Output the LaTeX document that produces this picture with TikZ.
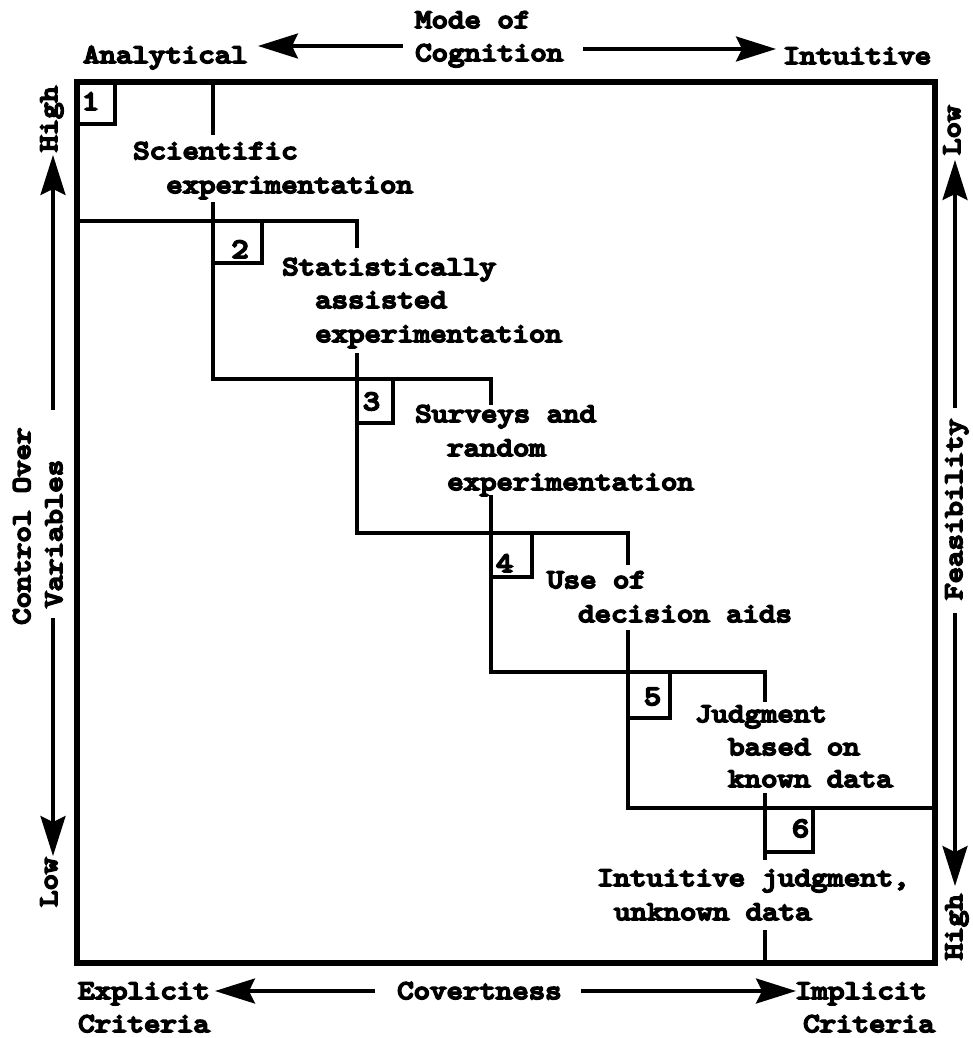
\documentclass[tikz,border=0pt]{standalone}
\usepackage{fontspec}
\newfontfamily\tw{lmmono10-regular.otf}[FakeBold=7,FakeStretch=1.16]
\usetikzlibrary{arrows.meta}
\begin{document}
\begin{tikzpicture}[x=1pt,y=-1pt,
  lbl/.style={font=\tw\fontsize{27}{34}\selectfont,inner sep=0pt,anchor=base west},
  num/.style={font=\tw\fontsize{28}{34}\selectfont,inner sep=0pt,anchor=base},
  side/.style={font=\tw\fontsize{27}{34}\selectfont,inner sep=0pt,anchor=base west,rotate=90},
  frameln/.style={line width=6.5pt,line join=miter},
  stair/.style={line width=3.2pt,line join=miter},
  boxln/.style={line width=3.8pt,line join=miter},
  bigarrow/.style={line width=3.4pt,-{Stealth[length=40pt,width=25pt,inset=6pt]}}]
\useasboundingbox (0,0) rectangle (972,1038);

% frame
\draw[frameln] (77,82) rectangle (935,963);

% staircase
\draw[stair] (213,82) -- (213,135);
\draw[stair] (77,221) -- (357,221) -- (357,248);
\draw[stair] (213,202) -- (213,379) -- (491,379) -- (491,405);
\draw[stair] (357,353) -- (357,533) -- (628,533) -- (628,565);
\draw[stair] (491,495) -- (491,672) -- (765,672) -- (765,702);
\draw[stair] (628,630) -- (628,808) -- (935,808);
\draw[stair] (765,793) -- (765,860);
\draw[stair] (765,930) -- (765,963);

% number boxes
\draw[boxln] (115,82) -- (115,124) -- (77,124);
\draw[boxln] (262,221) -- (262,263) -- (213,263);
\draw[boxln] (393,379) -- (393,423) -- (357,423);
\draw[boxln] (532,533) -- (532,577) -- (491,577);
\draw[boxln] (670,672) -- (670,718) -- (628,718);
\draw[boxln] (813,808) -- (813,852) -- (765,852);

\node[num] (n1) at (90.5,110) {1};
\node[num] (n2) at (240,258) {2};
\node[num] (n3) at (371.5,410) {3};
\node[num] (n4) at (504.5,572) {4};
\node[num] (n5) at (652.5,705) {5};
\node[num] (n6) at (800.5,837) {6};

% step labels
\node[lbl] (t1a) at (133,159) {Scientific};
\node[lbl] (t1b) at (166,193) {experimentation};
\node[lbl] (t2a) at (282,275) {Statistically};
\node[lbl] (t2b) at (315,308) {assisted};
\node[lbl] (t2c) at (315,342) {experimentation};
\node[lbl] (t3a) at (415,422) {Surveys and};
\node[lbl] (t3b) at (447,456) {random};
\node[lbl] (t3c) at (447,490) {experimentation};
\node[lbl] (t4a) at (547,588) {Use of};
\node[lbl] (t4b) at (578,622) {decision aids};
\node[lbl] (t5a) at (695,722) {Judgment};
\node[lbl] (t5b) at (728,755) {based on};
\node[lbl] (t5c) at (728,787) {known data};
\node[lbl] (t6a) at (597,886) {Intuitive judgment,};
\node[lbl] (t6b) at (614,920) {unknown data};

% top axis
\node[lbl] (mode) at (415,28) {Mode of};
\node[lbl] (cog) at (415,61) {Cognition};
\node[lbl] (ana) at (83,63) {Analytical};
\node[lbl] (intu) at (783,64) {Intuitive};
\coordinate (tl0) at (403,46);
\coordinate (tl1) at (258,46);
\coordinate (tr0) at (583,49);
\coordinate (tr1) at (776,49);
\draw[bigarrow] (tl0) -- (tl1);
\draw[bigarrow] (tr0) -- (tr1);

% bottom axis
\node[lbl] (expl) at (78,999) {Explicit};
\node[lbl] (crl) at (78,1032) {Criteria};
\node[lbl] (cov) at (397,999) {Covertness};
\node[lbl] (impl) at (795,999) {Implicit};
\node[lbl] (crr) at (803,1032) {Criteria};
\coordinate (bl0) at (375,991);
\coordinate (bl1) at (215,991);
\coordinate (br0) at (581,991);
\coordinate (br1) at (796,991);
\draw[bigarrow] (bl0) -- (bl1);
\draw[bigarrow] (br0) -- (br1);

% left axis
\node[side] (lhigh) at (57,152) {High};
\node[side] (lctl) at (30,625) {Control Over};
\node[side] (lvar) at (62,608) {Variables};
\node[side] (llow) at (57,907) {Low};
\coordinate (lu0) at (53,410);
\coordinate (lu1) at (53,155);
\coordinate (ld0) at (53,618);
\coordinate (ld1) at (53,856);
\draw[bigarrow] (lu0) -- (lu1);
\draw[bigarrow] (ld0) -- (ld1);

% right axis
\node[side] (rlow) at (960,155) {Low};
\node[side] (rfea) at (962,600) {Feasibility};
\node[side] (rhigh) at (962,960) {High};
\coordinate (ru0) at (955,408);
\coordinate (ru1) at (955,160);
\coordinate (rd0) at (955,613);
\coordinate (rd1) at (955,886);
\draw[bigarrow] (ru0) -- (ru1);
\draw[bigarrow] (rd0) -- (rd1);
\end{tikzpicture}
\end{document}
